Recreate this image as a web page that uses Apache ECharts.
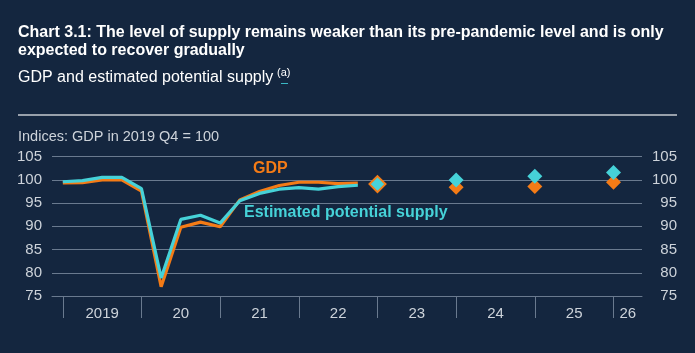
<!DOCTYPE html>
<html>
<head>
<meta charset="utf-8">
<script src="https://cdn.jsdelivr.net/npm/echarts@6/dist/echarts.min.js"></script>
<style>
html,body{margin:0;padding:0;background:#14263f;}
#chart{width:695px;height:353px;}
</style>
</head>
<body>
<div id="chart"></div>
<script>
// ---- data ----
const quarters = ['2019 Q1','2019 Q2','2019 Q3','2019 Q4','2020 Q1','2020 Q2','2020 Q3','2020 Q4',
                  '2021 Q1','2021 Q2','2021 Q3','2021 Q4','2022 Q1','2022 Q2','2022 Q3','2022 Q4'];
const gdp    = [99.35, 99.4, 100.0, 100.0, 97.6, 77.0, 89.8, 90.9, 89.9, 95.7, 97.5, 98.8, 99.5, 99.5, 99.2, 99.3];
const supply = [99.6, 99.85, 100.55, 100.55, 98.1, 78.9, 91.5, 92.4, 90.7, 95.5, 97.1, 98.0, 98.35, 98.0, 98.55, 98.85];
const forecastQuarters = ['2023 Q1','2024 Q1','2025 Q1','2026 Q1'];
const gdpForecast    = [99.1, 98.4, 98.6, 99.5];
const supplyForecast = [99.1, 100.0, 100.8, 101.6];
const yearLabels = ['2019','20','21','22','23','24','25','26'];
const yTicks = [75, 80, 85, 90, 95, 100, 105];

// ---- helpers ----
const BG = '#14263f', ORANGE = '#f47b16', CYAN = '#46d2d8', GRID = '#6a7a8f', TXT = '#cdd3da';
const FONT = 'Liberation Sans, Arial, sans-serif';
function qIndex(q){ const [y, qq] = q.split(' Q'); return (+y - 2019) * 4 + (+qq - 1); }
const X_MIN = -0.55, X_MAX = 29.45;
const tickVals = yearLabels.map((_, i) => i * 4);
const labelVals = yearLabels.map((_, i) => i < yearLabels.length - 1 ? i * 4 + 2 : (i * 4 + X_MAX) / 2);

const gdpLine = quarters.map((q, i) => [qIndex(q), gdp[i]]);
const supLine = quarters.map((q, i) => [qIndex(q), supply[i]]);
const gdpPts = forecastQuarters.map((q, i) => [qIndex(q), gdpForecast[i]]);
const supPts = forecastQuarters.map((q, i) => i === 0
  ? { value: [qIndex(q), supplyForecast[i]], symbolSize: 16, itemStyle: { color: CYAN, borderColor: ORANGE, borderWidth: 2 } }
  : [qIndex(q), supplyForecast[i]]);
const gdpPtsStyled = gdpPts.map((p, i) => i === 0 ? { value: p, symbolSize: 1, itemStyle: { opacity: 0 } } : p);

const chart = echarts.init(document.getElementById('chart'), null, { renderer: 'canvas' });
chart.setOption({
  backgroundColor: BG,
  animation: false,
  textStyle: { fontFamily: FONT },
  grid: { left: 52, right: 53, top: 156.7, bottom: 57, containLabel: false },
  xAxis: {
    type: 'value', min: X_MIN, max: X_MAX,
    axisLine: { show: true, lineStyle: { color: GRID, width: 1 } },
    axisTick: { show: true, customValues: tickVals, length: 22, lineStyle: { color: GRID, width: 1 } },
    axisLabel: {
      customValues: labelVals, color: TXT, fontSize: 15, margin: 10, fontFamily: FONT,
      formatter: v => { const k = labelVals.findIndex(x => Math.abs(x - v) < 1e-6); return k >= 0 ? yearLabels[k] : ''; }
    },
    splitLine: { show: false }
  },
  yAxis: [
    { type: 'value', min: 75, max: 105, interval: 5, position: 'left',
      axisLine: { show: false }, axisTick: { show: false },
      axisLabel: { color: TXT, fontSize: 15, margin: 10, fontFamily: FONT,
        formatter: v => yTicks.includes(v) ? String(v) : '' },
      splitLine: { show: true, lineStyle: { color: GRID, width: 1 } } },
    { type: 'value', min: 75, max: 105, interval: 5, position: 'right',
      axisLine: { show: false }, axisTick: { show: false },
      axisLabel: { color: TXT, fontSize: 15, margin: 35, align: 'right', fontFamily: FONT,
        formatter: v => yTicks.includes(v) ? String(v) : '' },
      splitLine: { show: false } }
  ],
  series: [
    { name: 'GDP', type: 'line', data: gdpLine, showSymbol: false, symbol: 'none',
      lineStyle: { color: ORANGE, width: 3.2 }, z: 3 },
    { name: 'Estimated potential supply', type: 'line', data: supLine, showSymbol: false, symbol: 'none',
      lineStyle: { color: CYAN, width: 3.2 }, z: 4 },
    { name: 'GDP forecast', type: 'scatter', data: gdpPtsStyled, symbol: 'diamond', symbolSize: 15,
      itemStyle: { color: ORANGE, opacity: 1 }, z: 5 },
    { name: 'Supply forecast', type: 'scatter', data: supPts, symbol: 'diamond', symbolSize: 15,
      itemStyle: { color: CYAN, opacity: 1 }, z: 6 }
  ],
  graphic: [
    { type: 'text', left: 18, top: 23, style: { text: 'Chart 3.1: The level of supply remains weaker than its pre-pandemic level and is only\nexpected to recover gradually',
      fill: '#ffffff', font: 'bold 16px ' + FONT, lineHeight: 18.5 } },
    { type: 'text', left: 18, top: 70, style: { text: 'GDP and estimated potential supply', fill: '#ffffff', font: '16px ' + FONT } },
    { type: 'text', left: 277, top: 67, style: { text: '(a)', fill: '#ffffff', font: '11px ' + FONT } },
    { type: 'line', shape: { x1: 281, y1: 83.5, x2: 288, y2: 83.5 }, style: { stroke: '#3ab7c4', lineWidth: 1 } },
    { type: 'line', shape: { x1: 18, y1: 115, x2: 677, y2: 115 }, style: { stroke: '#c5cad1', lineWidth: 1.5 } },
    { type: 'text', left: 18, top: 129, style: { text: 'Indices: GDP in 2019 Q4 = 100', fill: TXT, font: '14.5px ' + FONT } },
    { type: 'text', left: 253, top: 161, style: { text: 'GDP', fill: ORANGE, font: 'bold 16px ' + FONT } },
    { type: 'text', left: 244, top: 205, style: { text: 'Estimated potential supply', fill: CYAN, font: 'bold 16px ' + FONT } }
  ]
});
</script>
</body>
</html>
